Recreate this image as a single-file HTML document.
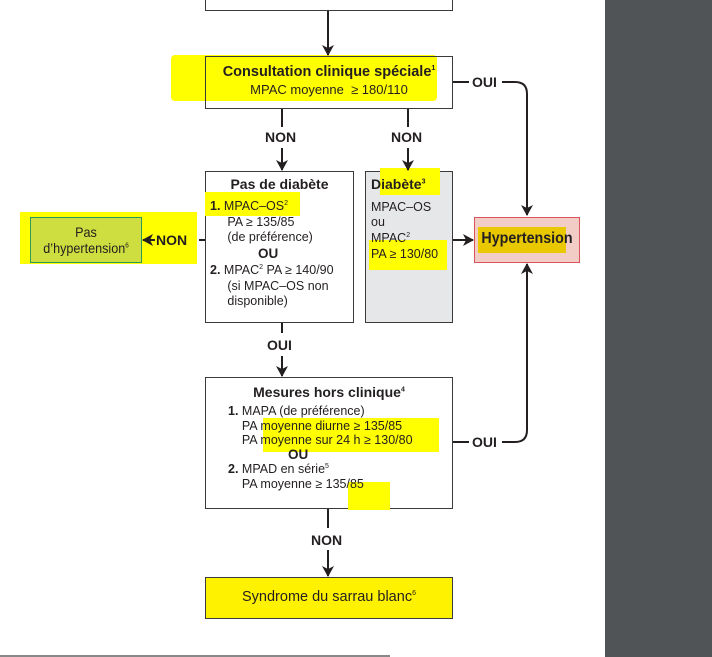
<!DOCTYPE html>
<html><head><meta charset="utf-8"><style>
body{margin:0;width:712px;height:657px;position:relative;background:#fff;overflow:hidden;font-family:"Liberation Sans",sans-serif;color:#231f20}
.a{position:absolute}
.box{position:absolute;border:1.5px solid #3a3a3a;box-sizing:border-box}
.hl{position:absolute;background:#ffff00}
sup{font-size:7px;line-height:0}
.t{font-size:12.5px;line-height:15.7px;white-space:nowrap}
.b{font-weight:bold}
.lab{position:absolute;font-weight:bold;font-size:14px}
</style></head><body>
<div class="a" style="left:605px;top:0;width:107px;height:657px;background:#505457"></div>
<div class="a" style="left:0;top:655px;width:390px;height:2px;background:#888"></div>

<div class="hl" style="left:171px;top:55px;width:266px;height:46px;border-radius:4px"></div>
<div class="hl" style="left:20px;top:212px;width:177px;height:52px"></div>

<div class="box" style="left:205px;top:-10px;width:248px;height:21px"></div>
<div class="box" style="left:205px;top:56px;width:248px;height:53px"></div>
<div class="a t" style="left:205px;top:64px;width:248px;text-align:center;line-height:17px"><span class="b" style="font-size:14.5px">Consultation clinique spéciale<sup>1</sup></span><br><span style="font-size:13px">MPAC moyenne &nbsp;≥ 180/110</span></div>

<div class="box" style="left:205px;top:171px;width:149px;height:152px;background:#fff"></div>
<div class="hl" style="left:205px;top:192px;width:95px;height:24px"></div>
<div class="a b" style="left:205px;top:176px;width:149px;text-align:center;font-size:14px">Pas de diabète</div>
<div class="a t" style="left:210px;top:199px">
<b>1.</b> MPAC–OS<sup>2</sup><br>&nbsp;&nbsp;&nbsp;&nbsp;&nbsp;PA ≥ 135/85<br>&nbsp;&nbsp;&nbsp;&nbsp;&nbsp;(de préférence)<br><b style="margin-left:48px;font-size:13.5px">OU</b><br><b>2.</b> MPAC<sup>2</sup> PA ≥ 140/90<br>&nbsp;&nbsp;&nbsp;&nbsp;&nbsp;(si MPAC–OS non<br>&nbsp;&nbsp;&nbsp;&nbsp;&nbsp;disponible)</div>

<div class="box" style="left:365px;top:171px;width:88px;height:152px;background:#e6e7e8"></div>
<div class="hl" style="left:380px;top:168px;width:60px;height:27px"></div>
<div class="hl" style="left:369px;top:240px;width:78px;height:30px"></div>
<div class="a t" style="left:371px;top:177px"><b style="font-size:14px">Diabète<sup>3</sup></b><br><div style="height:6px"></div>MPAC–OS<br>ou<br>MPAC<sup>2</sup><br>PA ≥ 130/80</div>

<div class="a" style="left:474px;top:217px;width:106px;height:46px;border:1.5px solid #d9545a;box-sizing:border-box;background:#f2cdc6"></div>
<div class="a" style="left:478px;top:227px;width:88px;height:26px;background:#e9c800"></div>
<div class="a b" style="left:474px;top:230px;width:106px;text-align:center;font-size:15.5px;transform:scaleX(0.92)">Hypertension</div>

<div class="a" style="left:30px;top:217px;width:112px;height:46px;border:1.5px solid #2e9a55;box-sizing:border-box;background:#cedd3f"></div>
<div class="a" style="left:30px;top:224px;width:112px;text-align:center;font-size:14px;line-height:16px;transform:scaleX(0.9)">Pas<br>d’hypertension<sup>6</sup></div>

<div class="box" style="left:205px;top:377px;width:248px;height:132px;background:#fff"></div>
<div class="hl" style="left:263px;top:418px;width:176px;height:34px"></div>
<div class="hl" style="left:348px;top:482px;width:42px;height:28px"></div>
<div class="a b" style="left:205px;top:384px;width:248px;text-align:center;font-size:14px">Mesures hors clinique<sup>4</sup></div>
<div class="a t" style="left:228px;top:404px;line-height:14.6px"><b>1.</b> MAPA (de préférence)<br>&nbsp;&nbsp;&nbsp;&nbsp;PA moyenne diurne ≥ 135/85<br>&nbsp;&nbsp;&nbsp;&nbsp;PA moyenne sur 24 h ≥ 130/80<br><b style="margin-left:60px;font-size:13.5px">OU</b><br><b>2.</b> MPAD en série<sup>5</sup><br>&nbsp;&nbsp;&nbsp;&nbsp;PA moyenne ≥ 135/85</div>

<div class="box" style="left:205px;top:577px;width:248px;height:42px;background:#fff200"></div>
<div class="a" style="left:205px;top:589px;width:248px;text-align:center;font-size:14.5px">Syndrome du sarrau blanc<sup>6</sup></div>

<svg class="a" style="left:0;top:0" width="712" height="657">
<defs><marker id="m" markerWidth="12" markerHeight="12" refX="10" refY="6" orient="auto" markerUnits="userSpaceOnUse"><path d="M0,0 L11,6 L0,12 L3,6z" fill="#231f20"/></marker></defs>
<g stroke="#231f20" stroke-width="2" fill="none">
<line x1="328" y1="11" x2="328" y2="55" marker-end="url(#m)"/>
<line x1="282" y1="109" x2="282" y2="127"/><line x1="282" y1="148" x2="282" y2="170" marker-end="url(#m)"/>
<line x1="408" y1="109" x2="408" y2="127"/><line x1="408" y1="148" x2="408" y2="170" marker-end="url(#m)"/>
<line x1="453" y1="240" x2="473" y2="240" marker-end="url(#m)"/>
<line x1="205" y1="240" x2="199" y2="240"/><line x1="155" y1="240" x2="143" y2="240" marker-end="url(#m)"/>
<line x1="282" y1="323" x2="282" y2="333"/><line x1="282" y1="356" x2="282" y2="376" marker-end="url(#m)"/>
<line x1="328" y1="509" x2="328" y2="528"/><line x1="328" y1="550" x2="328" y2="576" marker-end="url(#m)"/>
<path d="M453 82 H469 M502 82 H515 Q527 82 527 94 V215" marker-end="url(#m)"/>
<path d="M453 442 H469 M502 442 H515 Q527 442 527 430 V264" marker-end="url(#m)"/>
</g></svg>
<div class="lab" style="left:472px;top:74px">OUI</div>
<div class="lab" style="left:265px;top:129px">NON</div>
<div class="lab" style="left:391px;top:129px">NON</div>
<div class="lab" style="left:156px;top:232px">NON</div>
<div class="lab" style="left:267px;top:337px">OUI</div>
<div class="lab" style="left:472px;top:434px">OUI</div>
<div class="lab" style="left:311px;top:532px">NON</div>
</body></html>
